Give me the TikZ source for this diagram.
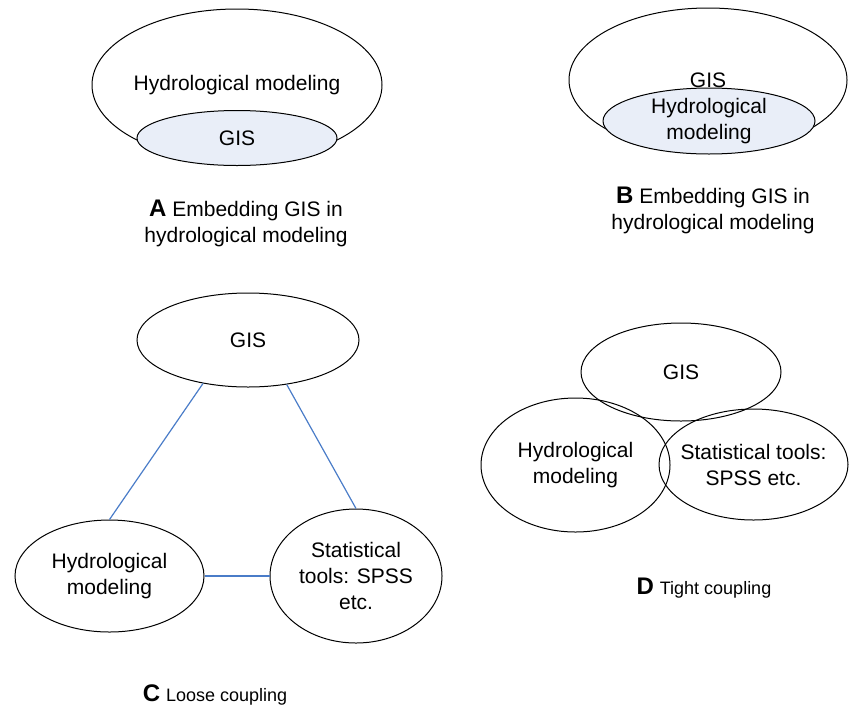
\documentclass[tikz,border=0pt]{standalone}
\usepackage{fontspec}
\setmainfont{Liberation Sans}
\usepackage{tikz}
\usetikzlibrary{shapes.geometric}

\definecolor{paleblue}{HTML}{E9EEF8}
\definecolor{linkblue}{HTML}{4A7CC8}

\tikzset{
	blob/.style={ellipse, draw, line width=0.5pt, inner sep=0pt, align=center},
	inside/.style={blob, fill=paleblue},
	link/.style={draw=linkblue, line width=0.6pt},
	caption/.style={align=center, inner sep=0pt}
}
\newcommand{\tag}[1]{{\fontsize{12}{13}\selectfont\bfseries #1}}

\begin{document}
\begin{tikzpicture}[x=0.5pt, y=-0.5pt, font=\fontsize{10.5}{13}\selectfont]
		\useasboundingbox (0, 0) rectangle (849, 707);

		\node[blob, minimum width=145pt, minimum height=76pt, inner xsep=-2pt] (ahydro) at (237, 85) {Hydrological modeling};
		\node[inside, minimum width=100pt, minimum height=27.5pt] (agis) at (237, 138) {GIS};
		\node[caption] (acap) at (246, 223) {\tag{A} Embedding GIS in\\hydrological modeling};

		\node[blob, minimum width=139pt, minimum height=72pt] (bgis) at (708, 80) {GIS};
		\node[inside, minimum width=106pt, minimum height=33pt] (bhydro) at (709, 121) {Hydrological\\modeling};
		\node[caption] (bcap) at (713, 210) {\tag{B} Embedding GIS in\\hydrological modeling};

		\node[blob, minimum width=111pt, minimum height=47pt] (cgis) at (248, 340) {GIS};
		\node[blob, minimum width=94.5pt, minimum height=56pt] (chydro) at (109.5, 576) {Hydrological\\modeling};
		\node[blob, minimum width=86pt, minimum height=67pt] (cstat) at (356, 576) {Statistical\\tools: SPSS\\etc.};
		\draw[link] (cgis.224) -- (chydro.north);
		\draw[link] (cgis.311) -- (cstat.north);
		\draw[link] (chydro.east) -- (cstat.west);
		\node[caption] (ccap) at (215, 695) {\tag{C} {\fontsize{9}{11}\selectfont Loose coupling}};

		\node[blob, minimum width=100pt, minimum height=49pt] (dgis) at (681, 372) {GIS};
		\node[blob, minimum width=94.5pt, minimum height=67pt] (dhydro) at (575.5, 465) {Hydrological\\modeling};
		\node[blob, minimum width=94.5pt, minimum height=55.5pt, inner xsep=-4pt] (dstat) at (753.5, 464.5) {Statistical tools:\\SPSS etc.};
		\node[caption] (dcap) at (704, 588) {\tag{D} {\fontsize{9}{11}\selectfont Tight coupling}};
	\end{tikzpicture}
\end{document}
